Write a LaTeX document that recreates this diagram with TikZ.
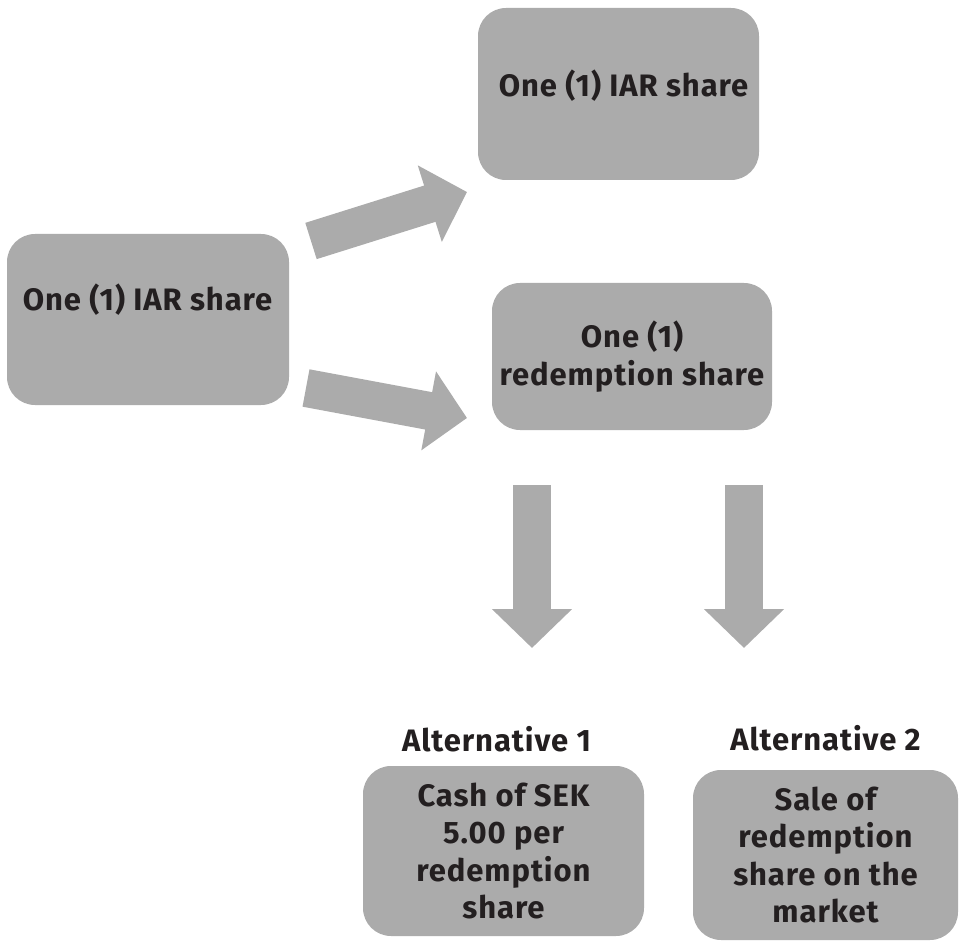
\documentclass[tikz,border=0pt]{standalone}
\usepackage{fontspec}
\setmainfont[LetterSpace=3]{Fira Sans}
\usepackage{xcolor}
\usetikzlibrary{arrows.meta}
\definecolor{boxgray}{RGB}{171,171,171}
\definecolor{inkdark}{RGB}{35,31,32}
\tikzstyle{sharebox} = [rectangle, rounded corners=28pt, inner sep=0pt, fill=boxgray, text=inkdark, align=center, font=\bfseries\fontsize{31}{37.5}\selectfont]
\tikzstyle{sharetext} = [inner sep=0pt, anchor=base, text=inkdark, font=\bfseries\fontsize{31}{37.5}\selectfont]
\tikzstyle{bigarrow} = [draw=boxgray, line width=38pt, -{Triangle[length=39pt,width=78pt]}]

\begin{document}
\begin{tikzpicture}[x=1pt, y=-1pt]
        \useasboundingbox (0,0) rectangle (961,941);

        % boxes
        \node (iarLeft) [sharebox, minimum width=282pt, minimum height=171pt] at (148,319.5) {};
        \node (iarLeftText) [sharetext] at (147.5,311) {One (1) IAR share};
        \node (iarTop) [sharebox, minimum width=281pt, minimum height=172pt] at (618.5,94) {};
        \node (iarTopText) [sharetext] at (623.5,97) {One (1) IAR share};
        \node (redemption) [sharebox, minimum width=280pt, minimum height=147pt] at (632,356.5) {One (1)\\redemption share};
        \node (cash) [sharebox, minimum width=281pt, minimum height=170pt] at (503.5,851) {Cash of SEK\\5.00 per\\redemption\\share};
        \node (sale) [sharebox, minimum width=265pt, minimum height=170pt] at (825.5,855) {Sale of\\redemption\\share on the\\market};

        \node (alt1) [sharetext] at (496.5,751) {Alternative 1};
        \node (alt2) [sharetext] at (825.5,750) {Alternative 2};

        % arrows
        \coordinate (upTail) at (311,241);
        \coordinate (upTip) at (467,192);
        \coordinate (lowTail) at (306,388);
        \coordinate (lowTip) at (467,418);
        \coordinate (cashTail) at (532,485);
        \coordinate (cashTip) at (532,648);
        \coordinate (saleTail) at (744,485);
        \coordinate (saleTip) at (744,648);

        \draw [bigarrow] (upTail) -- (upTip);
        \draw [bigarrow] (lowTail) -- (lowTip);
        \draw [bigarrow] (cashTail) -- (cashTip);
        \draw [bigarrow] (saleTail) -- (saleTip);
\end{tikzpicture}
\end{document}
